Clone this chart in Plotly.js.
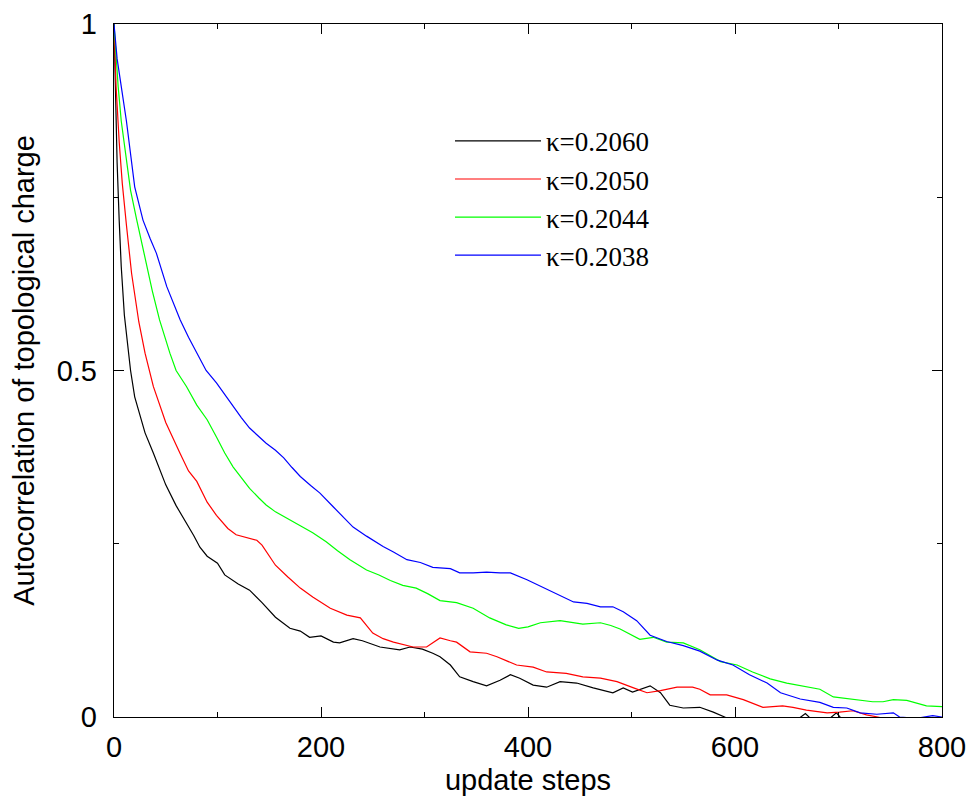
<!DOCTYPE html>
<html>
<head>
<meta charset="utf-8">
<script src="https://cdn.plot.ly/plotly-3.0.1.min.js"></script>
<style>html,body{margin:0;padding:0;background:#fff;}#chart{width:974px;height:802px;}</style>
</head>
<body>
<div id="chart"></div>
<script>
// ---- data ----
const seriesNames = ["κ=0.2060", "κ=0.2050", "κ=0.2044", "κ=0.2038"];

const stepsK2060 = [0,1,2,3,5,7,10,13,16,20,25,30,38,45,50,60,70,77,83,90,100,107,120,131,143,156,170,180,189,200,212,218,231,240,257,276,286,298,308,315,325,334,347,360,373,383,392,405,418,431,447,463,482,492,501,518,528,537,550,566,579,590,600,620,640,660,668,675,690,698,705,720,760,800];
const valsK2060  = [1,0.93,0.86,0.80,0.717,0.65,0.58,0.535,0.50,0.462,0.435,0.41,0.381,0.355,0.335,0.305,0.28,0.262,0.245,0.232,0.222,0.205,0.192,0.183,0.165,0.144,0.128,0.124,0.115,0.117,0.108,0.107,0.113,0.110,0.101,0.097,0.101,0.098,0.092,0.087,0.075,0.058,0.051,0.045,0.053,0.061,0.056,0.046,0.043,0.051,0.049,0.042,0.035,0.042,0.036,0.045,0.035,0.017,0.013,0.014,0.007,0.0,-0.008,-0.010,-0.012,-0.004,0.005,-0.005,-0.004,0.006,-0.006,-0.015,-0.020,-0.020];

const stepsK2050 = [0,2,5,8,12,17,24,30,38,50,64,72,80,90,99,110,118,131,138,143,150,156,168,180,192,199,209,225,238,250,260,270,289,302,315,325,331,344,360,370,389,405,418,437,453,470,486,502,515,528,544,559,566,576,592,608,627,646,656,669,689,701,714,727,738,750,770,800];
const valsK2050  = [1,0.91,0.83,0.77,0.71,0.64,0.57,0.525,0.477,0.425,0.38,0.355,0.34,0.31,0.291,0.272,0.263,0.258,0.255,0.248,0.232,0.219,0.202,0.186,0.173,0.166,0.157,0.147,0.143,0.121,0.113,0.108,0.101,0.101,0.114,0.110,0.108,0.094,0.092,0.087,0.075,0.072,0.065,0.063,0.058,0.056,0.051,0.042,0.035,0.038,0.043,0.043,0.040,0.032,0.032,0.025,0.014,0.016,0.014,0.010,0.006,0.007,0.009,0.003,0.0,-0.005,-0.008,-0.010];

const stepsK2044 = [0,2,4,7,12,16,22,30,37,44,54,60,70,80,90,99,107,115,123,131,140,147,156,164,172,180,192,205,216,228,244,256,267,279,292,303,315,331,347,363,379,391,400,412,431,442,453,470,480,489,508,521,534,550,566,586,602,617,634,650,663,682,695,714,733,743,753,766,785,800];
const valsK2044  = [1,0.95,0.91,0.86,0.80,0.76,0.717,0.66,0.615,0.573,0.525,0.50,0.477,0.45,0.429,0.404,0.381,0.361,0.345,0.330,0.316,0.306,0.296,0.289,0.283,0.276,0.266,0.253,0.240,0.227,0.212,0.205,0.197,0.190,0.186,0.178,0.168,0.165,0.157,0.143,0.133,0.128,0.130,0.136,0.139,0.137,0.134,0.136,0.132,0.127,0.112,0.115,0.108,0.107,0.097,0.080,0.075,0.065,0.055,0.049,0.045,0.040,0.029,0.026,0.022,0.022,0.025,0.024,0.016,0.015];

const stepsK2038 = [0,3,7,12,20,28,35,41,51,64,72,80,89,99,107,115,123,131,140,147,156,164,172,180,190,199,212,221,231,244,260,270,283,296,308,325,334,347,360,373,383,399,412,428,444,457,470,482,492,505,518,534,550,566,583,598,614,631,644,663,682,695,708,721,737,753,759,775,791,800];
const valsK2038  = [1,0.95,0.91,0.86,0.765,0.717,0.69,0.669,0.621,0.573,0.548,0.525,0.50,0.482,0.465,0.448,0.432,0.417,0.404,0.395,0.385,0.374,0.360,0.347,0.334,0.323,0.303,0.289,0.274,0.261,0.246,0.238,0.227,0.223,0.216,0.214,0.208,0.208,0.209,0.208,0.208,0.198,0.189,0.177,0.166,0.164,0.159,0.159,0.152,0.139,0.118,0.109,0.103,0.095,0.082,0.075,0.061,0.049,0.035,0.026,0.021,0.014,0.013,0.006,0.004,0.006,0.0,-0.002,0.002,0.0];

const xTickVals = [0, 200, 400, 600, 800];
const xTickText = ["0", "200", "400", "600", "800"];
const yTickVals = [0, 0.5, 1];
const yTickText = ["0", "0.5", "1"];

const colors = ["#000000", "#ff0000", "#00ff00", "#0000ff"];
const stepsAll = [stepsK2060, stepsK2050, stepsK2044, stepsK2038];
const valsAll = [valsK2060, valsK2050, valsK2044, valsK2038];

const traces = seriesNames.map((name, i) => ({
  type: "scatter",
  mode: "lines",
  name: name,
  x: stepsAll[i],
  y: valsAll[i],
  line: {color: colors[i], width: 1.2},
  cliponaxis: true
}));

const sans = "Liberation Sans, Arial, sans-serif";
const axisCommon = {
  showgrid: false,
  zeroline: false,
  showline: true,
  linecolor: "#000",
  linewidth: 1.2,
  mirror: "ticks",
  ticks: "inside",
  ticklen: 10,
  tickwidth: 1,
  tickcolor: "#000",
  tickfont: {family: sans, size: 29, color: "#000"},
};

const layout = {
  width: 974,
  height: 802,
  margin: {l: 114, r: 32, t: 24, b: 85},
  paper_bgcolor: "#fff",
  plot_bgcolor: "#fff",
  showlegend: true,
  legend: {
    x: 0.4058, y: 0.866, xanchor: "left", yanchor: "top",
    bgcolor: "rgba(0,0,0,0)", borderwidth: 0,
    font: {family: "Liberation Serif, Times New Roman, serif", size: 27, color: "#000"},
    itemwidth: 86,
    tracegroupgap: 0
  },
  xaxis: Object.assign({}, axisCommon, {
    range: [0, 800],
    tickmode: "array",
    tickvals: xTickVals,
    ticktext: xTickText,
    ticklabelstandoff: 4,
    minor: {dtick: 100, tick0: 0, ticks: "inside", ticklen: 5, tickcolor: "#000", tickwidth: 1, showgrid: false},
    title: {text: "update steps", font: {family: sans, size: 29, color: "#000"}, standoff: 7}
  }),
  yaxis: Object.assign({}, axisCommon, {
    range: [0, 1],
    tickmode: "array",
    tickvals: yTickVals,
    ticktext: yTickText,
    ticklabelstandoff: 10,
    minor: {dtick: 0.25, tick0: 0, ticks: "inside", ticklen: 5, tickcolor: "#000", tickwidth: 1, showgrid: false},
    title: {text: "Autocorrelation of topological charge", font: {family: sans, size: 29, color: "#000"}, standoff: 13}
  })
};

Plotly.newPlot("chart", traces, layout, {displayModeBar: false, staticPlot: true});
</script>
</body>
</html>
